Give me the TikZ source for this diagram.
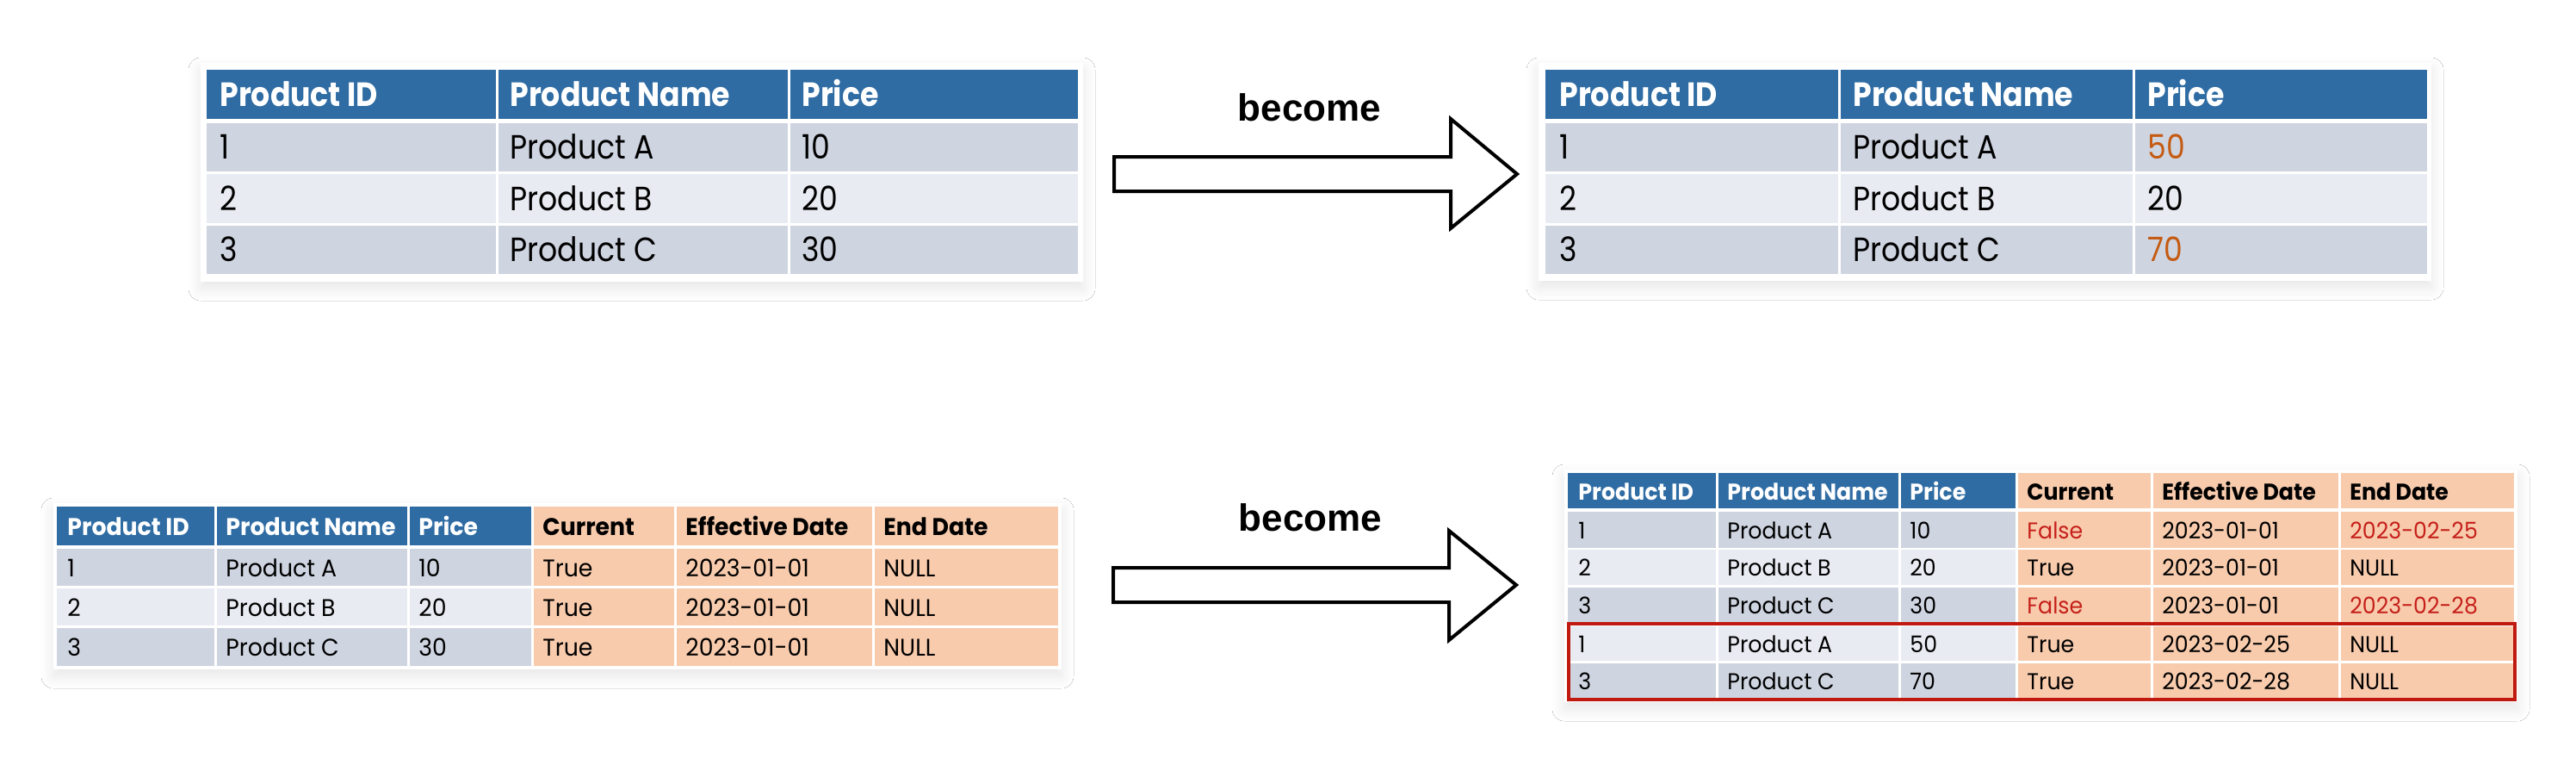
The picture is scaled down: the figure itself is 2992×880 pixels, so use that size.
\documentclass[tikz,border=0pt]{standalone}
\usepackage{fontspec}
\setmainfont{Poppins}
\newfontfamily\topfont{Poppins}[FakeStretch=0.89]
\newfontfamily\blfont{Poppins}[FakeStretch=0.955]
\newfontfamily\brfont{Poppins}[FakeStretch=0.95]
\newfontfamily\becomefont{Liberation Sans}
\usetikzlibrary{shadows.blur}
\definecolor{hdrblue}{HTML}{2F6CA3}
\definecolor{rowdark}{HTML}{CED4E0}
\definecolor{rowlight}{HTML}{E8EBF2}
\definecolor{peach}{HTML}{F8CBAD}
\definecolor{orangetxt}{HTML}{C55A11}
\definecolor{redtxt}{HTML}{C5201A}
\definecolor{redbox}{HTML}{C01A10}
\begin{document}
\begin{tikzpicture}[x=0.5pt,y=-0.5pt,
  card/.style={fill=white, blur shadow={shadow xshift=0pt, shadow yshift=-4pt, shadow blur radius=7pt, shadow blur steps=12, shadow opacity=10}},
  sep/.style={white, line width=1.5pt},
  toptxt/.style={anchor=base west, inner sep=0pt, font=\topfont\fontsize{19.5}{22}\selectfont},
  tophdr/.style={toptxt, font=\topfont\fontsize{19.5}{22}\selectfont\bfseries, text=white},
  bltxt/.style={anchor=base west, inner sep=0pt, font=\blfont\fontsize{14}{16}\selectfont},
  blhdrw/.style={bltxt, font=\blfont\fontsize{14}{16}\selectfont\bfseries, text=white},
  blhdrk/.style={bltxt, font=\blfont\fontsize{14}{16}\selectfont\bfseries, text=black},
  brtxt/.style={anchor=base west, inner sep=0pt, font=\brfont\fontsize{13.3}{16}\selectfont},
  brhdrw/.style={brtxt, font=\brfont\fontsize{13.3}{16}\selectfont\bfseries, text=white},
  brhdrk/.style={brtxt, font=\brfont\fontsize{13.3}{16}\selectfont\bfseries, text=black},
  becomelbl/.style={anchor=base, inner sep=0pt, font=\becomefont\bfseries\fontsize{22}{26}\selectfont},
  blockarrow/.style={draw=black, fill=white, line width=2pt, miter limit=10}]
\fill[white] (0,0) rectangle (2992,880);
\useasboundingbox (0,0) rectangle (2992,880);

% ---------- top-left table ----------
\path[card] (233,73) rectangle (1258,327);
\fill[hdrblue] (240,81) rectangle (1252,138);
\fill[rowdark] (240,143) rectangle (1252,199);
\fill[rowlight] (240,202) rectangle (1252,259);
\fill[rowdark] (240,262) rectangle (1252,318);
\draw[sep] (577,81) -- (577,318) (916,81) -- (916,318);
\node[tophdr] (tlh1) at (255,123) {Product ID};
\node[tophdr] (tlh2) at (592,123) {Product Name};
\node[tophdr] (tlh3) at (931,123) {Price};
\node[toptxt] (tla1) at (255,184.5) {1};
\node[toptxt] (tla2) at (592,184.5) {Product A};
\node[toptxt] (tla3) at (931,184.5) {10};
\node[toptxt] (tlb1) at (255,244) {2};
\node[toptxt] (tlb2) at (592,244) {Product B};
\node[toptxt] (tlb3) at (931,244) {20};
\node[toptxt] (tlc1) at (255,303.5) {3};
\node[toptxt] (tlc2) at (592,303.5) {Product C};
\node[toptxt] (tlc3) at (931,303.5) {30};

% ---------- top arrow ----------
\draw[blockarrow] (1294,182) -- (1685,182) -- (1685,138) -- (1762,202) -- (1685,265) -- (1685,222) -- (1294,222) -- cycle;
\node[becomelbl] (become1) at (1521,140) {become};

% ---------- top-right table ----------
\path[card] (1787,73) rectangle (2824,326);
\fill[hdrblue] (1795,81) rectangle (2819,138);
\fill[rowdark] (1795,143) rectangle (2819,199);
\fill[rowlight] (1795,202) rectangle (2819,259);
\fill[rowdark] (1795,262) rectangle (2819,318);
\draw[sep] (2136,81) -- (2136,318) (2478,81) -- (2478,318);
\node[tophdr] (trh1) at (1811,123) {Product ID};
\node[tophdr] (trh2) at (2152,123) {Product Name};
\node[tophdr] (trh3) at (2494,123) {Price};
\node[toptxt] (tra1) at (1811,184.5) {1};
\node[toptxt] (tra2) at (2152,184.5) {Product A};
\node[toptxt, text=orangetxt] (tra3) at (2494,184.5) {50};
\node[toptxt] (trb1) at (1811,244) {2};
\node[toptxt] (trb2) at (2152,244) {Product B};
\node[toptxt] (trb3) at (2494,244) {20};
\node[toptxt] (trc1) at (1811,303.5) {3};
\node[toptxt] (trc2) at (2152,303.5) {Product C};
\node[toptxt, text=orangetxt] (trc3) at (2494,303.5) {70};

% ---------- bottom-left table ----------
\path[card] (62,584) rectangle (1233,777);
\fill[hdrblue] (66,588) rectangle (618,633);
\fill[peach] (618,588) rectangle (1229,633);
\fill[rowdark] (66,637) rectangle (618,680);
\fill[peach] (618,637) rectangle (1229,680);
\fill[rowlight] (66,683) rectangle (618,726);
\fill[peach] (618,683) rectangle (1229,726);
\fill[rowdark] (66,729) rectangle (618,773);
\fill[peach] (618,729) rectangle (1229,773);
\draw[sep] (250,588) -- (250,773) (474,588) -- (474,773) (618,588) -- (618,773)
           (784,588) -- (784,773) (1014,588) -- (1014,773);
\node[blhdrw] (blh1) at (78,621) {Product ID};
\node[blhdrw] (blh2) at (262,621) {Product Name};
\node[blhdrw] (blh3) at (486,621) {Price};
\node[blhdrk] (blh4) at (630,621) {Current};
\node[blhdrk] (blh5) at (796,621) {Effective Date};
\node[blhdrk] (blh6) at (1026,621) {End Date};
\node[bltxt] (bla1) at (78,669) {1};
\node[bltxt] (bla2) at (262,669) {Product A};
\node[bltxt] (bla3) at (486,669) {10};
\node[bltxt] (bla4) at (630,669) {True};
\node[bltxt] (bla5) at (796,669) {2023-01-01};
\node[bltxt] (bla6) at (1026,669) {NULL};
\node[bltxt] (blb1) at (78,715) {2};
\node[bltxt] (blb2) at (262,715) {Product B};
\node[bltxt] (blb3) at (486,715) {20};
\node[bltxt] (blb4) at (630,715) {True};
\node[bltxt] (blb5) at (796,715) {2023-01-01};
\node[bltxt] (blb6) at (1026,715) {NULL};
\node[bltxt] (blc1) at (78,761) {3};
\node[bltxt] (blc2) at (262,761) {Product C};
\node[bltxt] (blc3) at (486,761) {30};
\node[bltxt] (blc4) at (630,761) {True};
\node[bltxt] (blc5) at (796,761) {2023-01-01};
\node[bltxt] (blc6) at (1026,761) {NULL};

% ---------- bottom arrow ----------
\draw[blockarrow] (1293,659) -- (1683,659) -- (1683,616) -- (1761,679) -- (1683,743) -- (1683,699) -- (1293,699) -- cycle;
\node[becomelbl] (become2) at (1522,616) {become};

% ---------- bottom-right table ----------
\path[card] (1817,545) rectangle (2924,815);
\fill[hdrblue] (1821,549) rectangle (2342,590);
\fill[peach] (2342,549) rectangle (2920,590);
\fill[rowdark] (1821,594) rectangle (2342,636);
\fill[peach] (2342,594) rectangle (2920,636);
\fill[rowlight] (1821,638) rectangle (2342,679);
\fill[peach] (2342,638) rectangle (2920,679);
\fill[rowdark] (1821,682) rectangle (2342,723);
\fill[peach] (2342,682) rectangle (2920,723);
\fill[rowlight] (1821,727) rectangle (2342,767);
\fill[peach] (2342,727) rectangle (2920,767);
\fill[rowdark] (1821,770) rectangle (2342,811);
\fill[peach] (2342,770) rectangle (2920,811);
\draw[sep] (1994,549) -- (1994,811) (2206,549) -- (2206,811) (2342,549) -- (2342,811)
           (2499,549) -- (2499,811) (2717,549) -- (2717,811);
\node[brhdrw] (brh1) at (1833,580) {Product ID};
\node[brhdrw] (brh2) at (2006,580) {Product Name};
\node[brhdrw] (brh3) at (2218,580) {Price};
\node[brhdrk] (brh4) at (2354,580) {Current};
\node[brhdrk] (brh5) at (2511,580) {Effective Date};
\node[brhdrk] (brh6) at (2729,580) {End Date};
\node[brtxt] (bra1) at (1833,625) {1};
\node[brtxt] (bra2) at (2006,625) {Product A};
\node[brtxt] (bra3) at (2218,625) {10};
\node[brtxt, text=redtxt] (bra4) at (2354,625) {False};
\node[brtxt] (bra5) at (2511,625) {2023-01-01};
\node[brtxt, text=redtxt] (bra6) at (2729,625) {2023-02-25};
\node[brtxt] (brb1) at (1833,668.5) {2};
\node[brtxt] (brb2) at (2006,668.5) {Product B};
\node[brtxt] (brb3) at (2218,668.5) {20};
\node[brtxt] (brb4) at (2354,668.5) {True};
\node[brtxt] (brb5) at (2511,668.5) {2023-01-01};
\node[brtxt] (brb6) at (2729,668.5) {NULL};
\node[brtxt] (brc1) at (1833,712.5) {3};
\node[brtxt] (brc2) at (2006,712.5) {Product C};
\node[brtxt] (brc3) at (2218,712.5) {30};
\node[brtxt, text=redtxt] (brc4) at (2354,712.5) {False};
\node[brtxt] (brc5) at (2511,712.5) {2023-01-01};
\node[brtxt, text=redtxt] (brc6) at (2729,712.5) {2023-02-28};
\node[brtxt] (brd1) at (1833,757) {1};
\node[brtxt] (brd2) at (2006,757) {Product A};
\node[brtxt] (brd3) at (2218,757) {50};
\node[brtxt] (brd4) at (2354,757) {True};
\node[brtxt] (brd5) at (2511,757) {2023-02-25};
\node[brtxt] (brd6) at (2729,757) {NULL};
\node[brtxt] (bre1) at (1833,800.5) {3};
\node[brtxt] (bre2) at (2006,800.5) {Product C};
\node[brtxt] (bre3) at (2218,800.5) {70};
\node[brtxt] (bre4) at (2354,800.5) {True};
\node[brtxt] (bre5) at (2511,800.5) {2023-02-28};
\node[brtxt] (bre6) at (2729,800.5) {NULL};
\draw[redbox, line width=2pt] (1822,724) rectangle (2921,812);
\end{tikzpicture}
\end{document}
